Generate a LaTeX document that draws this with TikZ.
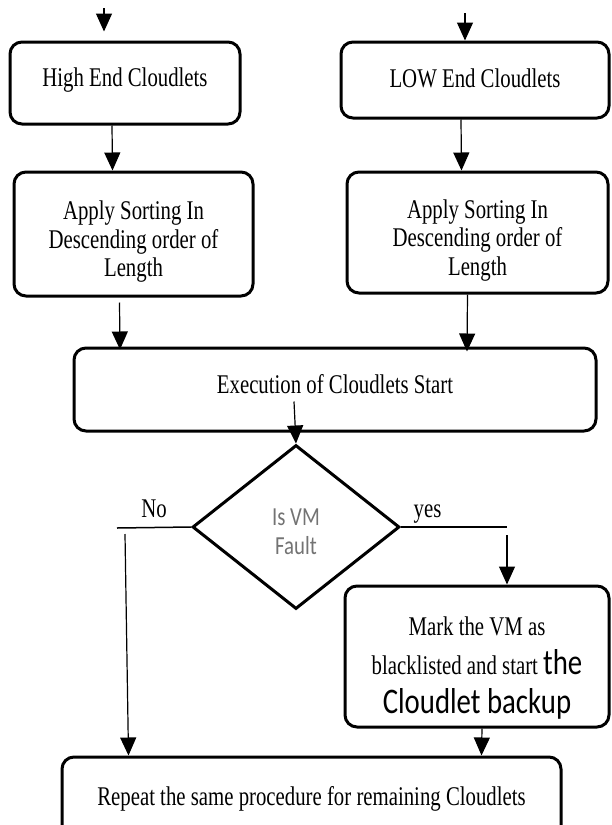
\documentclass[tikz,border=0pt]{standalone}
\usepackage{fontspec}
\setmainfont{Liberation Serif}[FakeStretch=0.77]
\newfontfamily\calibfont{Carlito}[FakeStretch=0.8]
\newcommand{\backupfont}{\calibfont\fontsize{36}{39}\selectfont}
\usetikzlibrary{arrows.meta,shapes.geometric}
\tikzset{
  block/.style={draw, line width=3pt, rounded corners=12pt, align=center, inner sep=0pt},
  arr/.style={-{Triangle[width=16pt,length=18pt]}, line width=1.2pt},
  branch/.style={line width=1.5pt},
}
\begin{document}
\begin{tikzpicture}[x=1pt, y=-1pt, font=\fontsize{27}{28.5}\selectfont]
    % Page frame
    \useasboundingbox (0,0) rectangle (611,825);
    \clip (0,0) rectangle (611,825);

    % Cloudlet groups
    \node[block, minimum width=230pt, minimum height=82pt] (high) at (125,83) {High End Cloudlets\rule[-12pt]{0pt}{12pt}};
    \node[block, minimum width=268pt, minimum height=76pt] (low) at (475,80) {LOW End Cloudlets\rule[-4pt]{0pt}{4pt}};

    % Sorting
    \node[block, minimum width=239pt, minimum height=124pt] (sortH) at (133.5,234) {\rule{0pt}{34pt}Apply Sorting In\\Descending order of\\Length};
    \node[block, minimum width=261pt, minimum height=121pt] (sortL) at (477.5,232.5) {\rule{0pt}{34pt}Apply Sorting In\\Descending order of\\Length};

    % Execution and fault check
    \node[block, minimum width=522pt, minimum height=83pt] (exec) at (335,389.5) {Execution of Cloudlets Start\rule[-12pt]{0pt}{12pt}};
    \node[diamond, draw, line width=3pt, minimum width=207pt, minimum height=164pt, inner sep=0pt, align=center,
          text=black!55, font=\calibfont\fontsize{26}{29}\selectfont] (fault) at (296,527) {\rule{0pt}{27pt}Is VM\\Fault};

    % Outcomes
    \node[block, minimum width=264pt, minimum height=141pt, font=\fontsize{27}{39}\selectfont] (mark) at (477,656.5)
        {\rule{0pt}{42pt}Mark the VM as\\blacklisted and start {\backupfont the}\\{\backupfont Cloudlet backup}};
    \node[block, minimum width=499pt, minimum height=83pt] (rep) at (311.5,798.5) {Repeat the same procedure for remaining Cloudlets};

    % Incoming arrows
    \coordinate (inH) at (104,8);
    \coordinate (inL) at (465,13);
    \draw[arr, shorten >=9pt] (inH) -- (inH |- high.north);
    \draw[arr] (inL) -- (inL |- low.north);

    % Down to sorting and execution
    \draw[arr] ([xshift=-13pt]high.south) -- ([xshift=-21pt]sortH.north);
    \draw[arr] ([xshift=-14pt]low.south) -- ([xshift=-16pt]sortL.north);
    \draw[arr] ([xshift=-14pt,yshift=-5pt]sortH.south) -- ([xshift=-215pt,yshift=-3pt]exec.north);
    \draw[arr] ([xshift=-10pt]sortL.south) -- ([xshift=132pt,yshift=-5pt]exec.north);
    \draw[arr] ([xshift=-41pt,yshift=-12pt]exec.center) -- (fault.north);

    % No branch
    \coordinate (noEnd) at (117,528);
    \coordinate (noDown) at (125,534);
    \draw[branch] (fault.west) -- (noEnd) node[midway, anchor=base, yshift=10pt] {No};
    \draw[arr] (noDown) -- ([xshift=-183pt]rep.north);

    % Yes branch
    \coordinate (yesEnd) at (507,527);
    \coordinate (yesDown) at (507,535);
    \draw[branch] (fault.east) -- (yesEnd) node[pos=0.25, anchor=base, yshift=10pt] {yes};
    \draw[arr] (yesDown) -- (yesDown |- mark.north);
    \draw[arr] ([xshift=5pt]mark.south) -- ([xshift=170pt]rep.north);
\end{tikzpicture}
\end{document}
